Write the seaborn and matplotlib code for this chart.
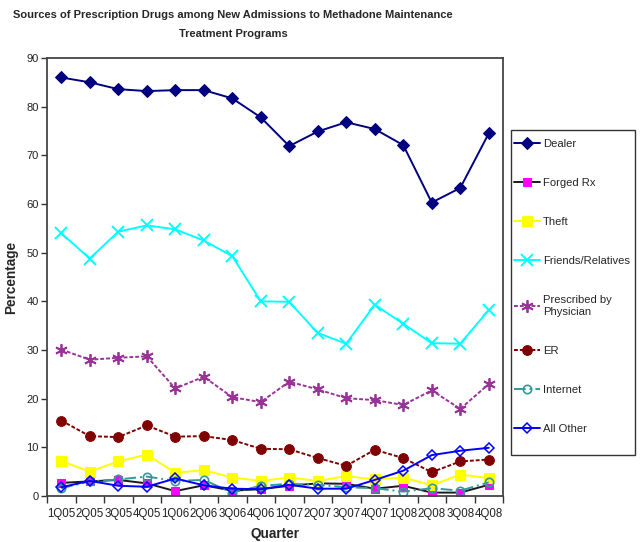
import matplotlib
matplotlib.use("Agg")
import matplotlib.pyplot as plt
from matplotlib.patches import Rectangle
import seaborn as sns
import numpy as np
import pandas as pd

quarters = ["1Q05", "2Q05", "3Q05", "4Q05", "1Q06", "2Q06", "3Q06", "4Q06",
            "1Q07", "2Q07", "3Q07", "4Q07", "1Q08", "2Q08", "3Q08", "4Q08"]

dealer = [86.0, 85.0, 83.6, 83.2, 83.4, 83.4, 81.7, 77.8, 71.9, 74.9, 76.8, 75.4, 72.1, 60.3, 63.3, 74.5]
forged_rx = [2.7, 3.0, 3.3, 2.6, 1.0, 2.2, 1.1, 1.4, 2.1, 2.6, 2.5, 1.5, 2.1, 0.7, 0.7, 2.3]
theft = [7.2, 5.0, 7.1, 8.5, 4.8, 5.3, 3.8, 3.1, 3.8, 3.1, 4.1, 3.4, 3.8, 2.2, 4.4, 3.7]
friends = [54.0, 48.8, 54.3, 55.6, 54.8, 52.5, 49.3, 40.0, 39.9, 33.5, 31.3, 39.3, 35.4, 31.4, 31.3, 38.2]
prescribed = [30.1, 28.0, 28.4, 28.7, 22.1, 24.5, 20.3, 19.3, 23.5, 21.9, 20.1, 19.7, 18.7, 21.7, 17.9, 23.0]
er = [15.5, 12.3, 12.1, 14.5, 12.2, 12.3, 11.5, 9.7, 9.6, 7.8, 6.2, 9.5, 7.8, 4.9, 7.1, 7.5]
internet = [1.6, 3.0, 3.4, 4.0, 3.1, 3.3, 0.7, 2.1, 2.5, 2.3, 1.8, 1.6, 0.9, 1.6, 1.1, 2.8]
all_other = [1.8, 3.1, 2.1, 1.9, 3.6, 2.2, 1.5, 1.4, 2.3, 1.5, 1.5, 3.3, 5.2, 8.4, 9.3, 9.9]

series_names = ["Dealer", "Forged Rx", "Theft", "Friends/Relatives",
                "Prescribed by\nPhysician", "ER", "Internet", "All Other"]
series_values = [dealer, forged_rx, theft, friends, prescribed, er, internet, all_other]

styles = [
    dict(color="#000080", marker="D", markersize=6, markerfacecolor="#000080", markeredgecolor="#000080", linestyle="-", linewidth=1.4),
    dict(color="#1a1a1a", marker="s", markersize=6, markerfacecolor="#FF00FF", markeredgecolor="#FF00FF", linestyle="-", linewidth=1.4),
    dict(color="#FFFF00", marker="s", markersize=7, markerfacecolor="#FFFF00", markeredgecolor="#FFFF00", linestyle="-", linewidth=1.4),
    dict(color="#00FFFF", marker="x", markersize=8, markerfacecolor="none", markeredgecolor="#00FFFF", markeredgewidth=1.4, linestyle="-", linewidth=1.4),
    dict(color="#993399", marker=(6, 2, 0), markersize=9, markerfacecolor="none", markeredgecolor="#993399", markeredgewidth=1.3, linestyle=(0, (2, 1)), linewidth=1.4),
    dict(color="#800000", marker="o", markersize=7, markerfacecolor="#800000", markeredgecolor="#800000", linestyle=(0, (2, 1)), linewidth=1.4),
    dict(color="#339999", marker="o", markersize=6, markerfacecolor="none", markeredgecolor="#339999", markeredgewidth=1.2, linestyle=(0, (6, 2, 1, 2)), linewidth=1.4),
    dict(color="#0000FF", marker="D", markersize=5, markerfacecolor="none", markeredgecolor="#0000FF", markeredgewidth=1.1, linestyle="-", linewidth=1.4),
]

sns.set_style("white")
plt.rcParams["font.family"] = ["Liberation Sans", "DejaVu Sans"]

fig = plt.figure(figsize=(6.41, 5.42), dpi=100)
ax = fig.add_axes([47 / 641, 1 - 496 / 542, (503 - 47) / 641, (496 - 58) / 542])

x = np.arange(len(quarters))
for name, vals, st in zip(series_names, series_values, styles):
    df = pd.DataFrame({"q": x, "v": vals})
    sns.lineplot(data=df, x="q", y="v", ax=ax, label=name, **st)

ax.set_xlim(-0.5, len(quarters) - 0.5)
ax.set_ylim(0, 90)
ax.set_yticks(np.arange(0, 91, 10))
ax.set_yticklabels([str(v) for v in range(0, 91, 10)], fontsize=8, color="#222222")
ax.set_xticks(x)
ax.set_xticklabels(quarters, fontsize=8.3, color="#222222")
ax.tick_params(axis="x", which="major", length=0, pad=9)
ax.set_xticks(np.arange(-0.5, len(quarters), 1), minor=True)
ax.tick_params(axis="x", which="minor", length=5, width=1, color="#333333", direction="out", bottom=True)
ax.tick_params(axis="y", length=4, width=1, color="#333333", direction="out", left=True, pad=2)

for sp in ax.spines.values():
    sp.set_visible(True)
    sp.set_color("#444444")
    sp.set_linewidth(1.3)

ax.set_xlabel("Quarter", fontsize=9.8, fontweight="bold", labelpad=5)
ax.set_ylabel("Percentage", fontsize=9.8, fontweight="bold", labelpad=6)

h, l = ax.get_legend_handles_labels()
ax.get_legend().remove()
leg = fig.legend(h, l, loc="upper left", bbox_to_anchor=(512 / 641, 1 - 137 / 542),
                 frameon=False, fontsize=8.1,
                 labelspacing=2.58, handlelength=2.3, handletextpad=0.25,
                 borderpad=0.2, borderaxespad=0)
fig.patches.append(Rectangle((511 / 641, 1 - 455 / 542), 124 / 641, 325 / 542,
                             transform=fig.transFigure, fill=False,
                             edgecolor="#333333", linewidth=1.0))

fig.text(233 / 641, 1 - 10 / 542,
         "Sources of Prescription Drugs among New Admissions to Methadone Maintenance\nTreatment Programs",
         ha="center", va="top", fontsize=8.0, fontweight="bold", linespacing=2.1)

fig.savefig("out.png", dpi=100, facecolor="white")
